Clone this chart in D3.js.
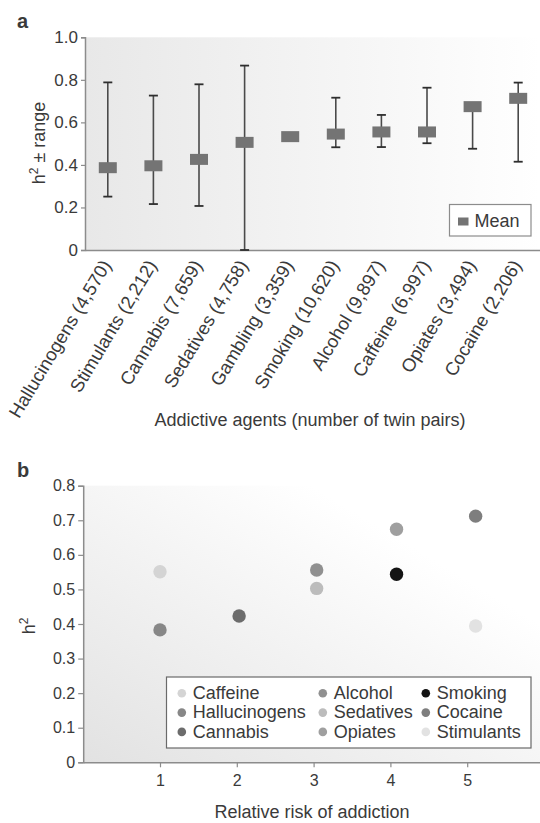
<!DOCTYPE html>
<html>
<head>
<meta charset="utf-8">
<script src="https://cdn.jsdelivr.net/npm/d3@7"></script>
<style>
  body { margin: 0; background: #fff; }
  svg { display: block; }
  text { font-family: "Liberation Sans", Arial, Helvetica, sans-serif; fill: #3a3a3a; }
</style>
</head>
<body>
<svg id="fig" width="540" height="823"></svg>
<script>
// panel a: heritability per addictive agent
const agents = ["Hallucinogens", "Stimulants", "Cannabis", "Sedatives", "Gambling",
  "Smoking", "Alcohol", "Caffeine", "Opiates", "Cocaine"];
const twinPairs = ["4,570", "2,212", "7,659", "4,758", "3,359",
  "10,620", "9,897", "6,997", "3,494", "2,206"];
const h2Mean = [0.387, 0.396, 0.426, 0.506, 0.533, 0.545, 0.555, 0.555, 0.674, 0.713];
const h2Low = [0.251, 0.216, 0.207, 0.0, 0.533, 0.483, 0.484, 0.502, 0.476, 0.415];
const h2High = [0.788, 0.726, 0.779, 0.867, 0.533, 0.716, 0.635, 0.763, 0.674, 0.787];
const ticksA = [0, 0.2, 0.4, 0.6, 0.8, 1.0];

// panel b: heritability vs relative risk
const drugs = ["Caffeine", "Hallucinogens", "Cannabis", "Alcohol", "Sedatives",
  "Opiates", "Smoking", "Cocaine", "Stimulants"];
const relRisk = [1.0, 1.0, 2.03, 3.04, 3.04, 4.08, 4.08, 5.11, 5.11];
const h2Drug = [0.551, 0.383, 0.423, 0.556, 0.503, 0.674, 0.544, 0.712, 0.394];
const drugShade = ["#d4d4d4", "#878787", "#6c6c6c", "#909090", "#bcbcbc",
  "#9f9f9f", "#141414", "#7e7e7e", "#e2e2e2"];
const ticksBy = [0, 0.1, 0.2, 0.3, 0.4, 0.5, 0.6, 0.7, 0.8];
const ticksBx = [1, 2, 3, 4, 5];

const svg = d3.select("#fig");
const defs = svg.append("defs");

const gA = defs.append("linearGradient").attr("id", "bgA")
  .attr("x1", 0).attr("y1", 0).attr("x2", 1).attr("y2", 0);
gA.append("stop").attr("offset", 0).attr("stop-color", "#e8e8e8");
gA.append("stop").attr("offset", 1).attr("stop-color", "#ffffff");

const gB = defs.append("linearGradient").attr("id", "bgB")
  .attr("x1", 0).attr("y1", 1).attr("x2", 1).attr("y2", 0);
gB.append("stop").attr("offset", 0).attr("stop-color", "#e2e2e2");
gB.append("stop").attr("offset", 0.75).attr("stop-color", "#ffffff");

function styleAxis(g, size) {
  g.select(".domain").attr("stroke", "#8c8c8c").attr("stroke-width", 1.5);
  g.selectAll(".tick line").attr("stroke", "#8c8c8c").attr("stroke-width", 1.2);
  g.selectAll(".tick text").attr("fill", "#444").style("font-size", size + "px");
}

// ---------- panel a ----------
const xA = d3.scaleBand().domain(agents).range([85, 541]);
const yA = d3.scaleLinear().domain([0, 1]).range([250, 37.3]);

svg.append("text").attr("x", 17).attr("y", 28)
  .style("font-size", "20px").style("font-weight", "bold").attr("fill", "#111").text("a");

svg.append("rect")
  .attr("x", xA.range()[0]).attr("y", yA(1))
  .attr("width", 540 - xA.range()[0]).attr("height", yA(0) - yA(1))
  .attr("fill", "url(#bgA)");

svg.append("g").attr("transform", "translate(85,0)")
  .call(d3.axisLeft(yA).tickValues(ticksA).tickSize(4).tickPadding(3)
    .tickFormat(d => d === 0 ? "0" : d.toFixed(1)))
  .call(g => styleAxis(g, 17));

svg.append("g").attr("transform", "translate(0," + yA(0) + ")")
  .call(d3.axisBottom(xA).tickSize(0).tickPadding(0)
    .tickFormat((d, i) => d + " (" + twinPairs[i] + ")"))
  .call(g => styleAxis(g, 18.5))
  .call(g => g.selectAll(".tick text")
    .attr("fill", "#3a3a3a")
    .attr("text-anchor", "end")
    .attr("dy", 0).attr("y", 0)
    .attr("transform", "translate(4,15) rotate(-59)"));

const bw = xA.bandwidth();
const bars = svg.append("g");
agents.forEach((a, i) => {
  if (h2Low[i] === h2High[i]) return;
  const cx = xA(a) + bw / 2;
  bars.append("line").attr("x1", cx).attr("x2", cx)
    .attr("y1", yA(h2Low[i])).attr("y2", yA(h2High[i]))
    .attr("stroke", "#4a4a4a").attr("stroke-width", 1.6);
  [h2Low[i], h2High[i]].forEach(v => {
    bars.append("line").attr("x1", cx - 4.5).attr("x2", cx + 4.5)
      .attr("y1", yA(v)).attr("y2", yA(v))
      .attr("stroke", "#2e2e2e").attr("stroke-width", 1.8);
  });
});
bars.selectAll("rect.mean").data(agents).enter().append("rect")
  .attr("class", "mean")
  .attr("x", d => xA(d) + bw / 2 - 9)
  .attr("y", (d, i) => yA(h2Mean[i]) - 5.5)
  .attr("width", 18).attr("height", 11)
  .attr("fill", "#747474");

const legA = svg.append("g").attr("transform", "translate(449.5,204.5)");
legA.append("rect").attr("width", 81.5).attr("height", 31.5)
  .attr("fill", "#fff").attr("stroke", "#8c8c8c").attr("stroke-width", 1.2);
legA.append("rect").attr("x", 8.5).attr("y", 13).attr("width", 10.5).attr("height", 8)
  .attr("fill", "#747474");
legA.append("text").attr("x", 25).attr("y", 22.3).style("font-size", "18px").text("Mean");

const tA = svg.append("text")
  .attr("transform", "translate(45,143) rotate(-90)")
  .attr("text-anchor", "middle").style("font-size", "18px");
tA.append("tspan").text("h");
tA.append("tspan").attr("dy", -7).style("font-size", "12px").text("2");
tA.append("tspan").attr("dy", 7).text(" \u00b1 range");

svg.append("text").attr("x", 310).attr("y", 426).attr("text-anchor", "middle")
  .style("font-size", "18px").text("Addictive agents (number of twin pairs)");

// ---------- panel b ----------
const xB = d3.scaleLinear().domain([0, 6]).range([83.2, 544]);
const yB = d3.scaleLinear().domain([0, 0.8]).range([762.3, 485.7]);

svg.append("text").attr("x", 17).attr("y", 477)
  .style("font-size", "20px").style("font-weight", "bold").attr("fill", "#111").text("b");

svg.append("rect")
  .attr("x", xB(0)).attr("y", yB(0.8))
  .attr("width", 540 - xB(0)).attr("height", yB(0) - yB(0.8))
  .attr("fill", "url(#bgB)");

svg.append("g").attr("transform", "translate(" + xB(0) + ",0)")
  .call(d3.axisLeft(yB).tickValues(ticksBy).tickSize(5).tickPadding(3)
    .tickFormat(d => d === 0 ? "0" : d.toFixed(1)))
  .call(g => styleAxis(g, 16));

svg.append("g").attr("transform", "translate(0," + yB(0) + ")")
  .call(d3.axisBottom(xB).tickValues(ticksBx).tickSize(5).tickPadding(7).tickSizeOuter(0)
    .tickFormat(d3.format("d")))
  .call(g => styleAxis(g, 16));

svg.append("g").selectAll("circle").data(drugs).enter().append("circle")
  .attr("cx", (d, i) => xB(relRisk[i]))
  .attr("cy", (d, i) => yB(h2Drug[i]))
  .attr("r", 6.7)
  .attr("fill", (d, i) => drugShade[i]);

const legB = svg.append("g").attr("transform", "translate(166.5,677)");
legB.append("rect").attr("width", 364.5).attr("height", 71)
  .attr("fill", "#fff").attr("stroke", "#6a6a6a").attr("stroke-width", 1.2);
const colX = [15.3, 156.3, 259.3];
const items = legB.selectAll("g.item").data(drugs).enter().append("g")
  .attr("class", "item")
  .attr("transform", (d, i) => "translate(" + colX[Math.floor(i / 3)] + "," + (16.3 + (i % 3) * 19.3) + ")");
items.append("circle").attr("r", 4.3).attr("fill", (d, i) => drugShade[i]);
items.append("text").attr("x", 11).attr("y", 5.6).style("font-size", "18px").text(d => d);

const tB = svg.append("text")
  .attr("transform", "translate(35,626) rotate(-90)")
  .attr("text-anchor", "middle").style("font-size", "18px");
tB.append("tspan").text("h");
tB.append("tspan").attr("dy", -7).style("font-size", "12px").text("2");

svg.append("text").attr("x", 312).attr("y", 818).attr("text-anchor", "middle")
  .style("font-size", "18px").text("Relative risk of addiction");
</script>
</body>
</html>
